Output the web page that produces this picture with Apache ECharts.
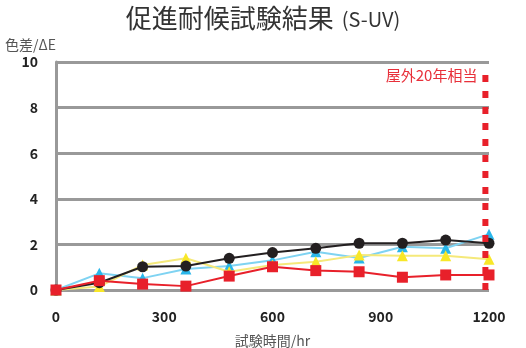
<!DOCTYPE html>
<html>
<head>
<meta charset="utf-8">
<script src="https://cdn.jsdelivr.net/npm/echarts@6/dist/echarts.min.js"></script>
<style>
html,body{margin:0;padding:0;background:#fff;}
#chart{width:526px;height:348px;}
</style>
</head>
<body>
<div id="chart"></div>
<script>
// 試験時間 (hr)
const hours = [0, 120, 240, 360, 480, 600, 720, 840, 960, 1080, 1200];
// 色差 ΔE per sample
const blackSeries = [0, 0.32, 1.02, 1.05, 1.39, 1.64, 1.83, 2.05, 2.05, 2.19, 2.05];
const redSeries = [0, 0.41, 0.26, 0.17, 0.61, 1.02, 0.85, 0.8, 0.56, 0.66, 0.66];
const cyanSeries = [0, 0.73, 0.52, 0.92, 1.05, 1.3, 1.68, 1.4, 1.9, 1.83, 2.45];
const yellowSeries = [0, 0.15, 1.1, 1.39, 0.8, 1.1, 1.24, 1.53, 1.5, 1.5, 1.35];
// 屋外20年相当 marker line
const outdoorHours = 1190;
const outdoorTop = 9.5;
const outdoorLabel = '屋外20年相当';

const font = '"Noto Sans CJK JP", "Noto Sans", sans-serif';
const pair = (vals) => hours.map((h, i) => [h, vals[i]]);

const chart = echarts.init(document.getElementById('chart'), null, {renderer: 'canvas'});
chart.setOption({
  animation: false,
  backgroundColor: '#fff',
  title: {
    text: '{a|促進耐候試験結果}{b|(S-UV)}',
    left: 'center',
    top: 0,
    textStyle: {
      rich: {
        a: {fontSize: 26, color: '#333', fontFamily: font, fontWeight: 'normal'},
        b: {fontSize: 20, color: '#333', fontFamily: font, fontWeight: 'normal', padding: [3, 0, 0, 8]}
      }
    }
  },
  grid: {left: 56, right: 37, top: 62, bottom: 58, outerBoundsMode: 'none'},
  xAxis: {
    type: 'value',
    min: 0, max: 1200, interval: 300,
    name: '試験時間/hr',
    nameLocation: 'middle',
    nameGap: 44,
    nameTextStyle: {fontSize: 14, color: '#555', fontFamily: font},
    axisLine: {show: false},
    axisTick: {show: false},
    splitLine: {show: false},
    axisLabel: {margin: 20, fontSize: 14, fontWeight: 'bold', color: '#222', fontFamily: font,
      formatter: (v) => String(v)}
  },
  yAxis: {
    type: 'value',
    min: 0, max: 10, interval: 2,
    name: '色差/ΔE',
    nameLocation: 'end',
    nameGap: 10,
    nameTextStyle: {fontSize: 14, color: '#555', fontFamily: font, align: 'left', padding: [0, 0, 0, -51]},
    axisLine: {show: true, lineStyle: {color: '#999', width: 3}},
    axisTick: {show: false},
    splitLine: {show: true, lineStyle: {color: '#999', width: 3}},
    axisLabel: {margin: 18, fontSize: 14, fontWeight: 'bold', color: '#222', fontFamily: font}
  },
  series: [
    {
      type: 'line', data: pair(cyanSeries), z: 2,
      symbol: 'triangle', symbolSize: 11,
      lineStyle: {color: '#7fd3f2', width: 2},
      itemStyle: {color: '#29b6ea'}
    },
    {
      type: 'line', data: pair(yellowSeries), z: 3,
      symbol: 'triangle', symbolSize: 11,
      lineStyle: {color: '#f5e97a', width: 2},
      itemStyle: {color: '#f8e728'}
    },
    {
      type: 'line', data: pair(blackSeries), z: 4,
      symbol: 'circle', symbolSize: 11,
      lineStyle: {color: '#231f20', width: 2},
      itemStyle: {color: '#231f20'}
    },
    {
      type: 'line', data: pair(redSeries), z: 5,
      symbol: 'rect', symbolSize: 11,
      lineStyle: {color: '#e8202a', width: 2},
      itemStyle: {color: '#e8202a'}
    },
    {
      type: 'line', z: 6,
      data: [[outdoorHours, 0], [outdoorHours, outdoorTop]],
      symbol: 'none',
      lineStyle: {color: '#e8202a', width: 6, type: [7, 9]},
      label: {show: false},
      endLabel: {
        show: true,
        formatter: outdoorLabel,
        color: '#e8303a',
        fontSize: 15,
        fontFamily: font,
        align: 'right',
        distance: 0,
        offset: [-8, 2]
      }
    }
  ]
});
</script>
</body>
</html>
